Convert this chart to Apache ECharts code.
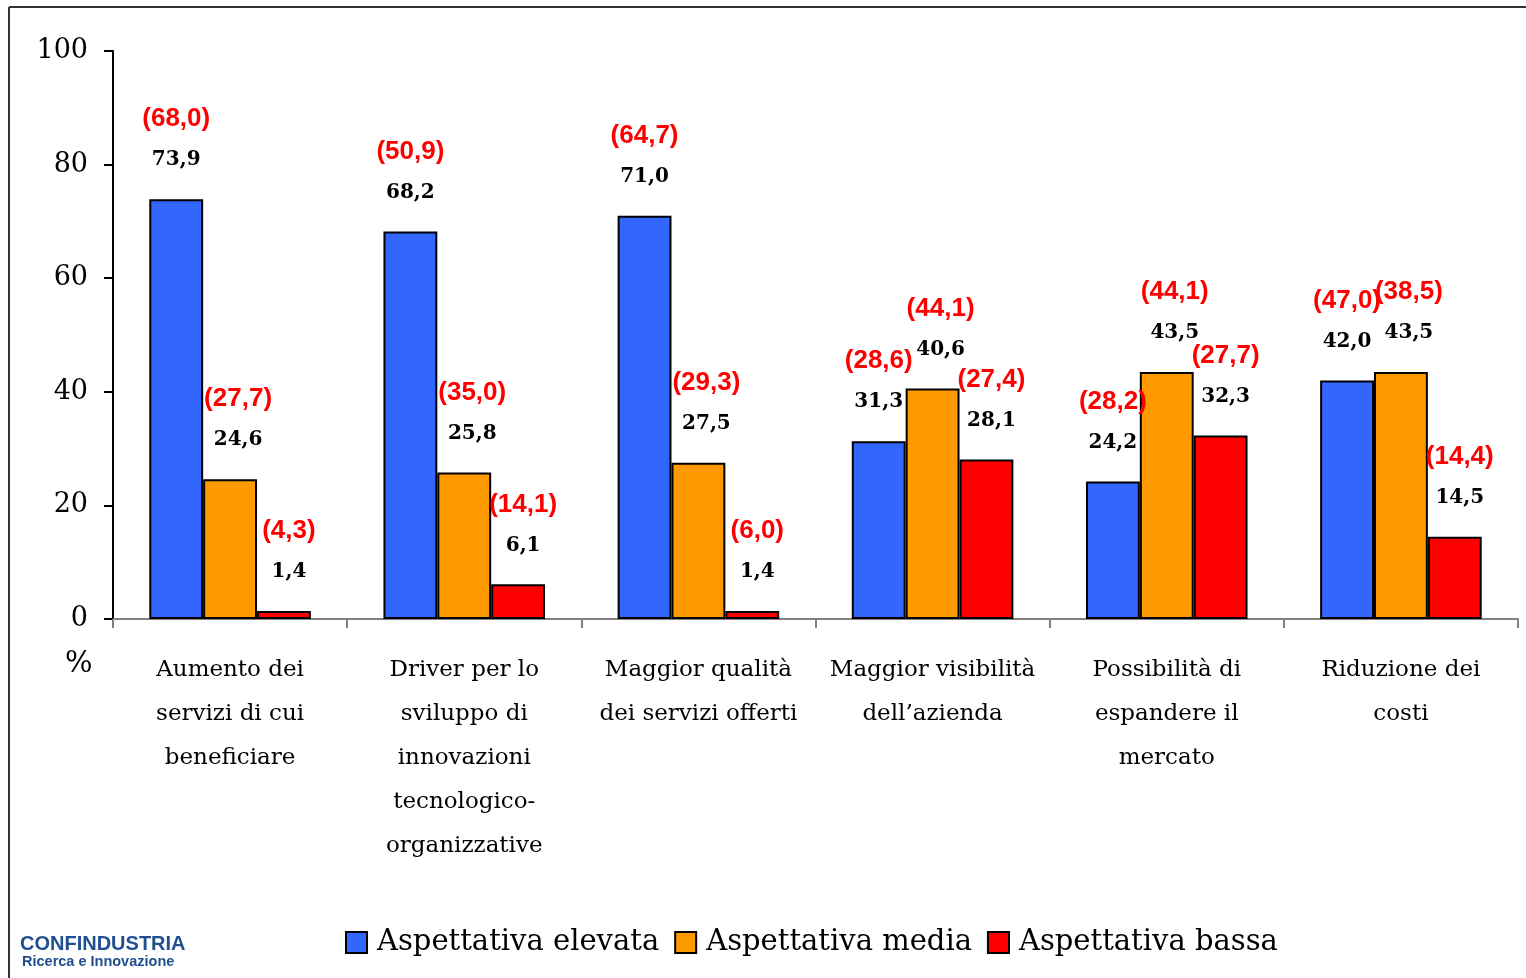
<!DOCTYPE html>
<html><head><meta charset="utf-8">
<script src="https://cdn.jsdelivr.net/npm/echarts@6/dist/echarts.min.js"></script>
<style>html,body{margin:0;padding:0;background:#fff}#c{width:1526px;height:978px}</style>
</head><body><div id="c"></div>
<script>
const categories = [
  'Aumento dei\nservizi di cui\nbeneficiare',
  'Driver per lo\nsviluppo di\ninnovazioni\ntecnologico-\norganizzative',
  'Maggior qualità\ndei servizi offerti',
  'Maggior visibilità\ndell\u2019azienda',
  'Possibilità di\nespandere il\nmercato',
  'Riduzione dei\ncosti'
];
const seriesNames = ['Aspettativa elevata', 'Aspettativa media', 'Aspettativa bassa'];
const elevata = [73.9, 68.2, 71.0, 31.3, 24.2, 42.0];
const media   = [24.6, 25.8, 27.5, 40.6, 43.5, 43.5];
const bassa   = [1.4, 6.1, 1.4, 28.1, 32.3, 14.5];
const elevataPrev = [68.0, 50.9, 64.7, 28.6, 28.2, 47.0];
const mediaPrev   = [27.7, 35.0, 29.3, 44.1, 44.1, 38.5];
const bassaPrev   = [4.3, 14.1, 6.0, 27.4, 27.7, 14.4];
const yTicks = [0, 20, 40, 60, 80, 100];

const SERIF = '"DejaVu Serif", "Liberation Serif", serif';
const fmt = v => v.toFixed(1).replace('.', ',');

function mk(name, vals, prev, color, dx) {
  return {
    name, type: 'bar', data: vals,
    barGap: '0%', barCategoryGap: '31%',
    itemStyle: { color, borderColor: '#000', borderWidth: 2 },
    label: {
      show: true, position: 'top', distance: 18, offset: [dx, 0],
      formatter: p => '{r|(' + fmt(prev[p.dataIndex]) + ')}\n{b|' + fmt(p.value) + '}',
      rich: {
        r: { color: '#ff0000', fontFamily: '"Liberation Sans", Arial, sans-serif', fontWeight: 'bold', fontSize: 26, lineHeight: 40 },
        b: { color: '#000', fontFamily: SERIF, fontWeight: 'bold', fontSize: 20, lineHeight: 42 }
      }
    }
  };
}

const chart = echarts.init(document.getElementById('c'), null, { renderer: 'canvas' });
chart.setOption({
  animation: false,
  backgroundColor: '#fff',
  grid: { left: 113, right: 8, top: 51, bottom: 359 },
  xAxis: {
    type: 'category', data: categories,
    axisLine: { lineStyle: { color: '#808080', width: 2 } },
    axisTick: { show: true, length: 9, lineStyle: { color: '#808080', width: 2 } },
    axisLabel: { interval: 0, margin: 29, color: '#000', fontFamily: SERIF, fontSize: 23, lineHeight: 44 }
  },
  yAxis: {
    type: 'value', min: 0, max: 100, interval: 20,
    axisLine: { show: true, lineStyle: { color: '#000', width: 2 } },
    axisTick: { show: true, length: 9, lineStyle: { color: '#000', width: 2 } },
    splitLine: { show: false },
    axisLabel: { margin: 25, color: '#000', fontFamily: SERIF, fontSize: 27,
      formatter: v => yTicks.includes(v) ? String(v) : '' }
  },
  legend: {
    bottom: 16, left: 340, itemWidth: 21, itemHeight: 21, itemGap: 15,
    icon: 'rect',
    data: seriesNames,
    textStyle: { fontFamily: SERIF, fontSize: 29, color: '#000', padding: [0, 0, 0, 5] }
  },
  graphic: [
    { type: 'line', shape: { x1: 9, y1: 7, x2: 1526, y2: 7 }, style: { stroke: '#333', lineWidth: 2 } },
    { type: 'line', shape: { x1: 9, y1: 7, x2: 9, y2: 978 }, style: { stroke: '#333', lineWidth: 2 } },
    { type: 'text', left: 65, top: 650, style: { text: '%', font: '29px ' + SERIF, fill: '#000' } },
    { type: 'text', left: 20, top: 934, style: { text: 'CONFINDUSTRIA', font: 'bold 20px "Liberation Sans Narrow", "Liberation Sans", Arial, sans-serif', fill: '#1f4f8f' } },
    { type: 'text', left: 22, top: 954, style: { text: 'Ricerca e Innovazione', font: 'bold 14.5px "Liberation Sans Narrow", "Liberation Sans", Arial, sans-serif', fill: '#1f4f8f' } }
  ],
  series: [
    mk(seriesNames[0], elevata, elevataPrev, '#3366ff', 0),
    mk(seriesNames[1], media, mediaPrev, '#ff9900', 8),
    mk(seriesNames[2], bassa, bassaPrev, '#ff0000', 5)
  ]
});
</script></body></html>
